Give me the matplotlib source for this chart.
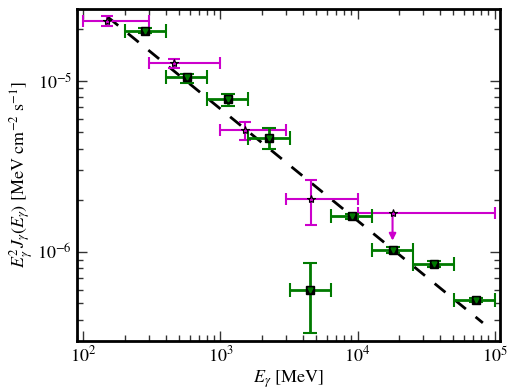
import numpy as np
import matplotlib
matplotlib.use('Agg')
import matplotlib.pyplot as plt

plt.rcParams['font.family'] = 'STIXGeneral'
plt.rcParams['mathtext.fontset'] = 'stix'

# Magenta points (stars)
mag_e = [150, 460, 1510, 4580]
mag_elo = [100, 300, 1000, 3000]
mag_ehi = [300, 1000, 3000, 10000]
mag_f = [2.24e-5, 1.26e-5, 5.15e-6, 2.03e-6]
mag_fhi = [2.40e-5, 1.33e-5, 5.77e-6, 2.63e-6]
mag_flo = [2.09e-5, 1.19e-5, 4.51e-6, 1.43e-6]

# Magenta upper limit
ul_e = 1.80e4
ul_elo = 1.0e4
ul_ehi = 1.0e5
ul_f = 1.68e-6
ul_end = 1.12e-6

# Green points (squares)
grn_e = [283, 569, 1133, 2264, 9140, 1.80e4, 3.62e4, 7.28e4, 4500]
grn_elo = [200, 400, 800, 1600, 6370, 1.28e4, 2.55e4, 5.04e4, 3222]
grn_ehi = [400, 800, 1600, 3222, 1.28e4, 2.55e4, 5.04e4, 1.0e5, 6400]
grn_f = [1.96e-5, 1.05e-5, 7.78e-6, 4.61e-6, 1.61e-6, 1.03e-6, 8.51e-7, 5.25e-7, 6.0e-7]
grn_fhi = [2.03e-5, 1.10e-5, 8.36e-6, 5.27e-6, 1.66e-6, 1.07e-6, 8.8e-7, 5.4e-7, 8.59e-7]
grn_flo = [1.89e-5, 0.973e-5, 7.11e-6, 3.98e-6, 1.56e-6, 0.99e-6, 8.2e-7, 5.1e-7, 3.38e-7]

# power-law model
e_model = np.logspace(np.log10(150), np.log10(8.2e4), 50)
norm = 6.84e-6
index = 2.653
f_model = norm * (e_model / 1000.0) ** (2 - index)

fig = plt.figure(figsize=(5.1, 3.92), dpi=100)
ax = fig.add_axes([0.151, 0.131, 0.829, 0.846])

mag = '#cc00cc'
grn = '#007a00'
cap = '#3d5a1e'

ax.plot(e_model, f_model, color='k', lw=2, ls=(0, (5, 4.5)), zorder=2)

e = np.array(mag_e)
f = np.array(mag_f)
ax.errorbar(e, f, xerr=[e - np.array(mag_elo), np.array(mag_ehi) - e],
            yerr=[f - np.array(mag_flo), np.array(mag_fhi) - f],
            fmt='none', ecolor=mag, elinewidth=1.5, capsize=4, capthick=1.5, zorder=3)
ax.errorbar([ul_e], [ul_f], xerr=[[ul_e - ul_elo], [ul_ehi - ul_e]],
            fmt='none', ecolor=mag, elinewidth=1.5, capsize=4, capthick=1.5, zorder=3)
ax.annotate('', xy=(ul_e, ul_end), xytext=(ul_e, ul_f),
            arrowprops=dict(arrowstyle='-|>', color=mag, lw=1.5, mutation_scale=10), zorder=3)
ax.plot(mag_e + [ul_e], mag_f + [ul_f], ls='none', marker='*', ms=6,
        mfc=mag, mec='k', mew=0.8, zorder=5)

e = np.array(grn_e)
f = np.array(grn_f)
_, caps, _ = ax.errorbar(e, f, xerr=[e - np.array(grn_elo), np.array(grn_ehi) - e],
                         yerr=[f - np.array(grn_flo), np.array(grn_fhi) - f],
                         fmt='none', ecolor=grn, elinewidth=2, capsize=5, capthick=1.5, zorder=3)
for c in caps:
    c.set_color(cap)
ax.plot(e, f, ls='none', marker='s', ms=5.5, mfc='k', mec='k', zorder=4)
ax.plot(e, f, ls='none', marker='v', ms=3.5, mfc=grn, mec=grn, zorder=5)

ax.set_xscale('log')
ax.set_yscale('log')
ax.set_xlim(90, 1.09e5)
ax.set_ylim(3.03e-7, 2.62e-5)

ax.tick_params(which='both', direction='in', top=True, right=True, labelsize=13,
               color='#333333')
ax.tick_params(which='major', length=7, width=1)
ax.tick_params(which='minor', length=4, width=1)
for s in ax.spines.values():
    s.set_linewidth(2)

ax.set_xlabel(r'$E_\gamma$ [MeV]', fontsize=13, labelpad=2)
ax.set_ylabel(r'$E_\gamma^2 J_\gamma(E_\gamma)$ [MeV cm$^{-2}$ s$^{-1}$]', fontsize=13, labelpad=2)

plt.savefig('out.png')
